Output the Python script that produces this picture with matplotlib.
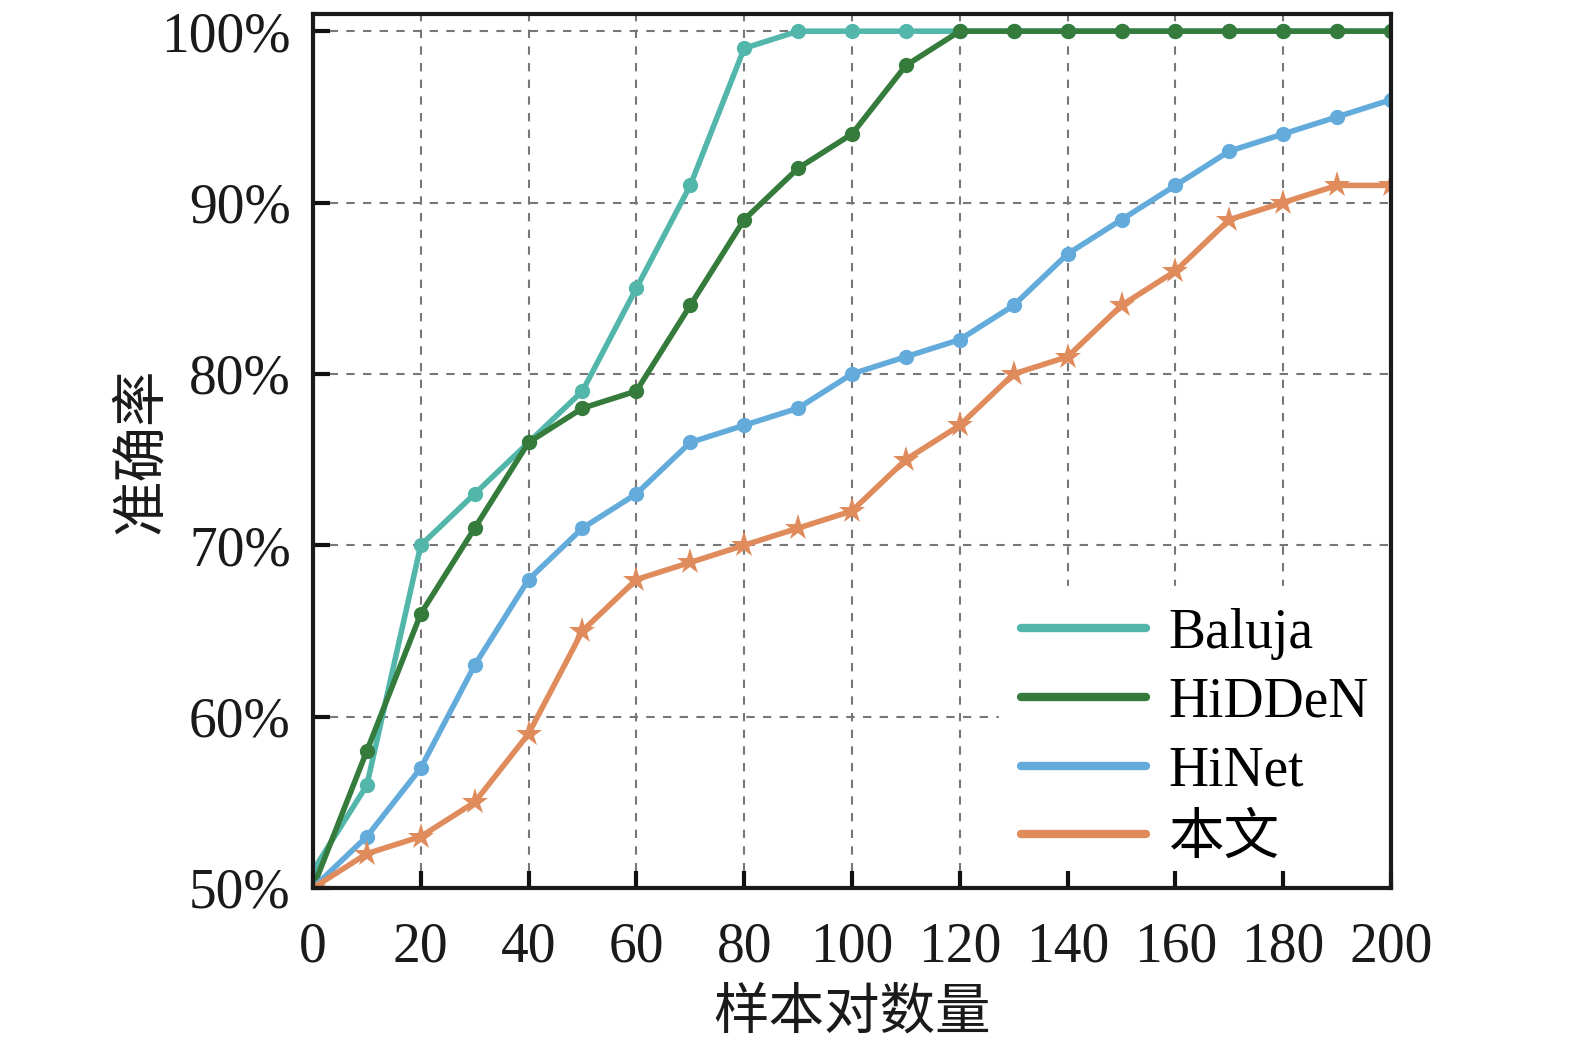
import matplotlib
matplotlib.use("Agg")
import matplotlib.pyplot as plt

x = list(range(0, 201, 10))
baluja = [51, 56, 70, 73, 76, 79, 85, 91, 99, 100, 100, 100, 100, 100, 100, 100, 100, 100, 100, 100, 100]
hidden = [50, 58, 66, 71, 76, 78, 79, 84, 89, 92, 94, 98, 100, 100, 100, 100, 100, 100, 100, 100, 100]
hinet = [50, 53, 57, 63, 68, 71, 73, 76, 77, 78, 80, 81, 82, 84, 87, 89, 91, 93, 94, 95, 96]
ours = [50, 52, 53, 55, 59, 65, 68, 69, 70, 71, 72, 75, 77, 80, 81, 84, 86, 89, 90, 91, 91]

xticks = list(range(0, 201, 20))
yticks = [50, 60, 70, 80, 90, 100]
ytick_labels = ["50%", "60%", "70%", "80%", "90%", "100%"]
names = ["Baluja", "HiDDeN", "HiNet", "本文"]
colors = ["#52b6ab", "#357b3c", "#63abdb", "#e08b5b"]

serif = ["Liberation Serif", "Noto Sans CJK SC", "DejaVu Serif"]
plt.rcParams['font.family'] = serif

fig = plt.figure(figsize=(15.75, 10.48), dpi=100)
ax = fig.add_axes([0.1987, 0.1527, 0.6845, 0.8339])

# manual grid (below legend)
for t in xticks:
    ax.axvline(t, linestyle=(0, (4, 4)), color='#777777', linewidth=1.5, zorder=1)
for t in yticks:
    ax.axhline(t, linestyle=(0, (4, 4)), color='#777777', linewidth=1.5, zorder=1)

series = [baluja, hidden, hinet, ours]
markers = ["o", "o", "o", "*"]
msizes = [11, 11, 11, 20]
handles = []
for s, c, m, ms, n in zip(series, colors, markers, msizes, names):
    ax.plot(x, s, color=c, lw=4, marker=m, markersize=ms, markeredgewidth=0, zorder=3)
    h, = ax.plot([], [], color=c, lw=6, solid_capstyle='round', label=n)
    handles.append(h)

ax.set_xlim(0, 200)
ax.set_ylim(50, 101)
ax.set_xticks(xticks)
ax.set_xticklabels([str(t) for t in xticks])
ax.set_yticks(yticks)
ax.set_yticklabels(ytick_labels)
ax.tick_params(direction='in', length=12, width=3, labelsize=40, colors='#111111')
ax.tick_params(axis='x', pad=24)
ax.tick_params(axis='y', pad=16)
for lab in ax.get_xticklabels() + ax.get_yticklabels():
    lab.set_color('#1a1a1a')
for sp in ax.spines.values():
    sp.set_linewidth(3)
    sp.set_color('#1a1a1a')
    sp.set_zorder(10)
ax.xaxis.set_zorder(9)
ax.yaxis.set_zorder(9)

ax.set_xlabel("样本对数量", fontsize=40, family=["Noto Sans CJK SC"], labelpad=8, color='#1a1a1a')
ax.set_ylabel("准确率", fontsize=40, family=["Noto Sans CJK SC"], labelpad=-6, color='#1a1a1a')

leg = ax.legend(handles=handles, loc='lower right', frameon=True,
                framealpha=1, edgecolor='white', fancybox=False,
                handlelength=2.25, handletextpad=0.4, labelspacing=0.3,
                borderaxespad=0.0, prop={'family': serif, 'size': 40})
leg.set_zorder(2)

fig.savefig("out.png", dpi=100)
